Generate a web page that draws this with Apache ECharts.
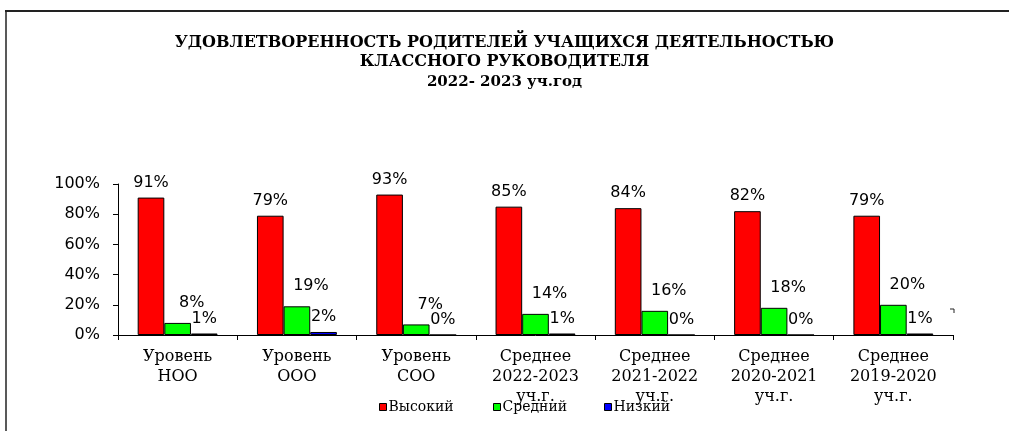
<!DOCTYPE html>
<html>
<head>
<meta charset="utf-8">
<script src="https://cdn.jsdelivr.net/npm/echarts@6/dist/echarts.min.js"></script>
<style>
html, body { margin: 0; padding: 0; background: #fff; }
#main { width: 1009px; height: 431px; }
</style>
</head>
<body>
<div id="main"></div>
<script>
// категории (подписи оси X)
var categories = ['Уровень\nНОО', 'Уровень\nООО', 'Уровень\nСОО',
    'Среднее\n2022-2023\nуч.г.', 'Среднее\n2021-2022\nуч.г.',
    'Среднее\n2020-2021\nуч.г.', 'Среднее\n2019-2020\nуч.г.'];
// значения, %
var high = [91, 79, 93, 85, 84, 82, 79];
var mid = [8, 19, 7, 14, 16, 18, 20];
var low = [1, 2, 0, 1, 0, 0, 1];
var seriesNames = ['Высокий', 'Средний', 'Низкий'];
var yTicks = [0, 20, 40, 60, 80, 100];

var serif = 'DejaVu Serif',
    sans = 'DejaVu Sans';

function makeSeries(name, data, color, labelOffset) {
    return {
        name: name,
        type: 'bar',
        data: data,
        barGap: '0%',
        barCategoryGap: '33%',
        itemStyle: { color: color, borderColor: '#000', borderWidth: 1 },
        label: {
            show: true,
            position: 'top',
            distance: 7,
            offset: labelOffset,
            formatter: '{c}%',
            color: '#000',
            fontFamily: sans,
            fontSize: 16
        }
    };
}

function makeLegend(name, left) {
    return {
        data: [name],
        left: left,
        top: 400,
        itemWidth: 7,
        itemHeight: 7,
        itemGap: 0,
        padding: 0,
        icon: 'rect',
        itemStyle: { borderColor: '#000', borderWidth: 1 },
        textStyle: { fontFamily: serif, fontSize: 14, color: '#000', padding: [0, 0, 0, -3] },
        selectedMode: false
    };
}

var myChart = echarts.init(document.getElementById('main'));
var option = {
    backgroundColor: '#fff',
    animation: false,
    title: [
        {
            text: 'УДОВЛЕТВОРЕННОСТЬ РОДИТЕЛЕЙ УЧАЩИХСЯ ДЕЯТЕЛЬНОСТЬЮ\nКЛАССНОГО РУКОВОДИТЕЛЯ',
            left: 'center',
            top: 33,
            padding: 0,
            textStyle: { fontFamily: serif, fontWeight: 'bold', fontSize: 16, lineHeight: 19, color: '#000' }
        },
        {
            text: '2022- 2023 уч.год',
            left: 'center',
            top: 75,
            padding: 0,
            textStyle: { fontFamily: serif, fontWeight: 'bold', fontSize: 15, color: '#000' }
        }
    ],
    legend: [
        makeLegend(seriesNames[0], 379),
        makeLegend(seriesNames[1], 493),
        makeLegend(seriesNames[2], 604)
    ],
    grid: { left: 118, right: 56, top: 184, bottom: 96 },
    xAxis: {
        type: 'category',
        data: categories,
        axisLine: { lineStyle: { color: '#000', width: 1 } },
        axisTick: { show: true, length: 5, lineStyle: { color: '#000' } },
        axisLabel: {
            margin: 12,
            color: '#000',
            fontFamily: serif,
            fontSize: 16,
            lineHeight: 20,
            interval: 0
        }
    },
    yAxis: {
        type: 'value',
        min: yTicks[0],
        max: yTicks[yTicks.length - 1],
        interval: yTicks[1] - yTicks[0],
        splitLine: { show: false },
        axisLine: { show: true, lineStyle: { color: '#000', width: 1 } },
        axisTick: { show: true, length: 5, lineStyle: { color: '#000' } },
        axisLabel: {
            margin: 18,
            formatter: '{value}%',
            color: '#000',
            fontFamily: sans,
            fontSize: 16
        }
    },
    series: [
        makeSeries(seriesNames[0], high, '#ff0000', [0, 0]),
        makeSeries(seriesNames[1], mid, '#00ff00', [14, -5]),
        makeSeries(seriesNames[2], low, '#0000ff', [0, 0])
    ],
    graphic: [
        { type: 'line', shape: { x1: 5, y1: 11, x2: 1009, y2: 11 }, style: { stroke: '#222', lineWidth: 2 } },
        { type: 'line', shape: { x1: 6, y1: 11, x2: 6, y2: 431 }, style: { stroke: '#222', lineWidth: 1.5 } },
        { type: 'polyline', shape: { points: [[950, 309], [954, 309], [954, 313]] }, style: { stroke: '#222', lineWidth: 1, fill: null } }
    ]
};
myChart.setOption(option);
</script>
</body>
</html>
